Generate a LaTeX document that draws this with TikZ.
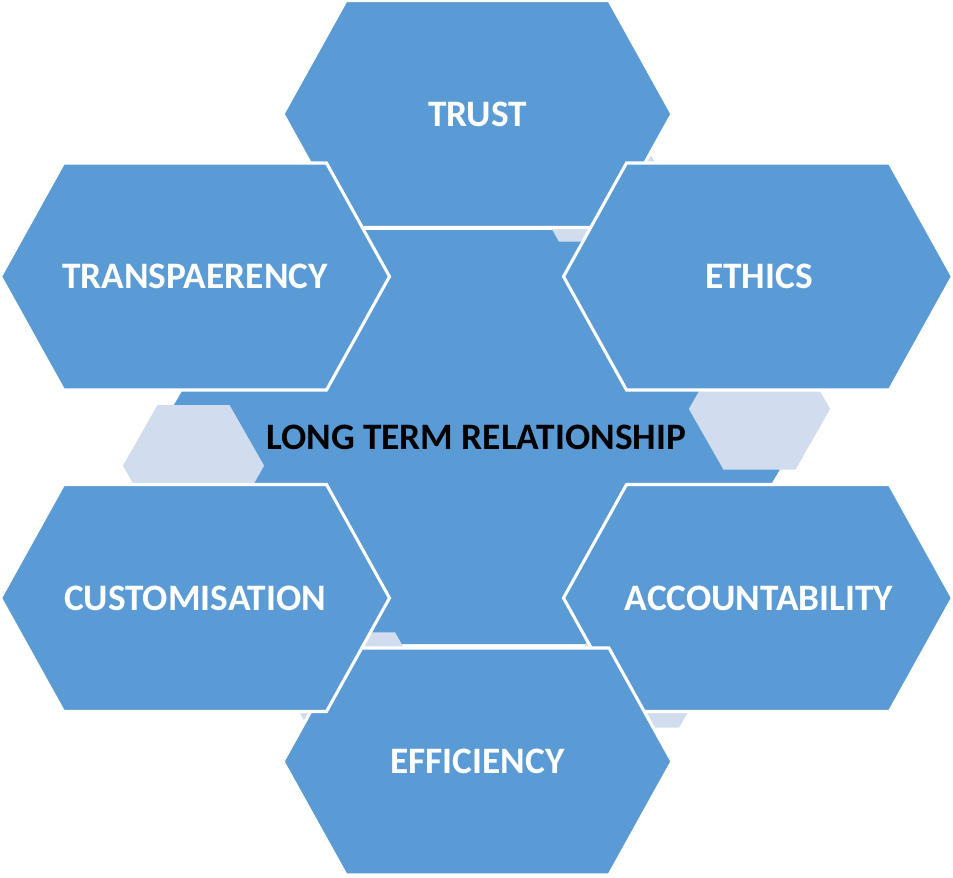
\documentclass[tikz,border=0pt]{standalone}
\usepackage{fontspec}
\setmainfont{Carlito}

\definecolor{hexblue}{HTML}{5B9BD5}
\definecolor{hexlight}{HTML}{D1DDEF}

% hexagon: style, centre x, centre y, half width, half height, indent
\newcommand{\hexagon}[6]{%
  \path[#1] (#2-#4,#3) -- (#2-#4+#6,#3-#5) -- (#2+#4-#6,#3-#5) -- (#2+#4,#3)
    -- (#2+#4-#6,#3+#5) -- (#2-#4+#6,#3+#5) -- cycle;}

\tikzset{
  centrehex/.style={fill=hexblue},
  linkhex/.style={fill=hexlight},
  outerhex/.style={fill=hexblue, draw=white, line width=2.3pt},
  hexlabel/.style={font=\bfseries\fontsize{28}{30}\selectfont, text=white},
}

\begin{document}
\begin{tikzpicture}[x=0.75pt, y=-0.75pt]
    \useasboundingbox (0,0) rectangle (953,878);

    % Define the middle and the small links
    \hexagon{centrehex}{477}{437}{322}{207}{122}
    \hexagon{linkhex}{193.5}{465.7}{70.6}{60.7}{34.6}
    \hexagon{linkhex}{759.5}{409}{70.6}{60.7}{34.6}
    \hexagon{linkhex}{595}{181}{70.6}{60.7}{34.6}
    \hexagon{linkhex}{359}{693}{70.6}{60.7}{34.6}
    \hexagon{linkhex}{643}{667}{70.6}{60.7}{34.6}

    % Draw the outer hexagons
    \hexagon{outerhex}{477.5}{114}{194.5}{113.5}{63}
    \hexagon{outerhex}{758}{276.5}{194.5}{113.5}{63}
    \hexagon{outerhex}{758}{598}{194.5}{113.5}{63}
    \hexagon{outerhex}{477.5}{761.5}{194.5}{113.5}{63}
    \hexagon{outerhex}{195}{598}{194.5}{113.5}{63}
    \hexagon{outerhex}{195}{276.5}{194.5}{113.5}{63}

    % Define the positions of the labels
    \node[hexlabel] (trust) at (477.5,114) {TRUST};
    \node[hexlabel] (ethics) at (759,276.5) {ETHICS};
    \node[hexlabel] (accountability) at (759,598) {ACCOUNTABILITY};
    \node[hexlabel] (efficiency) at (477.5,761.5) {EFFICIENCY};
    \node[hexlabel] (customisation) at (195,598) {CUSTOMISATION};
    \node[hexlabel] (transparency) at (195,276.5) {TRANSPAERENCY};
    \node[hexlabel, text=black] (relationship) at (476,437) {LONG TERM RELATIONSHIP};
\end{tikzpicture}
\end{document}
